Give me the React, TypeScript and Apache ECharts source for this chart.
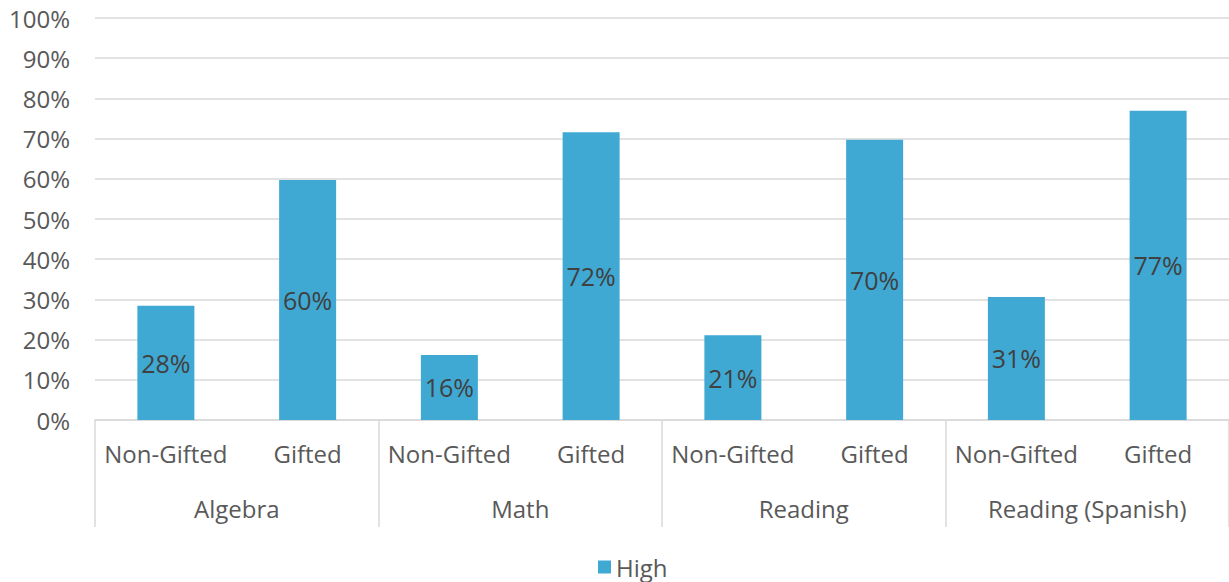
import React, { useEffect, useRef } from "react";
import * as echarts from "echarts";

const subCategories = ["Non-Gifted", "Gifted", "Non-Gifted", "Gifted", "Non-Gifted", "Gifted", "Non-Gifted", "Gifted"];
const groups = ["Algebra", "Math", "Reading", "Reading (Spanish)"];
const highValues = [28.4, 59.7, 16.2, 71.6, 21.1, 69.7, 30.6, 76.9];
const seriesName = "High";

const FONT = "'Open Sans', sans-serif";

export default function App() {
  const ref = useRef<HTMLDivElement>(null);
  useEffect(() => {
    if (!ref.current) return;
    const chart = echarts.init(ref.current, undefined, { renderer: "svg" });
    chart.setOption({
      animation: false,
      textStyle: { fontFamily: FONT },
      grid: { left: 95, top: 18, width: 1140, height: 402, containLabel: false },
      legend: {
        data: [seriesName],
        top: 550,
        left: 593,
        icon: "rect",
        itemWidth: 13,
        itemHeight: 13,
        itemGap: 8,
        textStyle: { fontSize: 24, color: "#595959", fontFamily: FONT },
      },
      xAxis: [
        {
          type: "category",
          data: subCategories,
          position: "bottom",
          axisLine: { show: true, lineStyle: { color: "#d9d9d9", width: 1.5 } },
          axisTick: { show: false },
          axisLabel: { interval: 0, margin: 21, fontSize: 24, color: "#595959", fontFamily: FONT },
        },
        {
          type: "category",
          data: groups,
          position: "bottom",
          boundaryGap: true,
          axisLine: { show: false },
          axisTick: { show: true, interval: 0, length: 107, lineStyle: { color: "#d9d9d9", width: 1.5 } },
          axisLabel: { interval: 0, margin: 76, fontSize: 24, color: "#595959", fontFamily: FONT },
          splitLine: { show: false },
        },
      ],
      yAxis: {
        type: "value",
        min: 0,
        max: 100,
        interval: 10,
        axisLine: { show: false },
        axisTick: { show: false },
        axisLabel: { formatter: "{value}%", fontSize: 24, color: "#595959", margin: 25, fontFamily: FONT },
        splitLine: { lineStyle: { color: "#d9d9d9", width: 1.5 } },
      },
      series: [
        {
          name: seriesName,
          type: "bar",
          xAxisIndex: 0,
          data: highValues,
          barWidth: 57,
          itemStyle: { color: "#3fa9d3" },
          label: {
            show: true,
            position: "inside",
            fontSize: 25,
            color: "#404040",
            fontFamily: FONT,
            formatter: (p: any) => Math.round(p.value) + "%",
          },
        },
      ],
    });
    return () => chart.dispose();
  }, []);
  return (
    <div
      ref={ref}
      style={{ position: "absolute", left: 0, top: 0, width: 1229, height: 582, background: "#fff" }}
    />
  );
}
